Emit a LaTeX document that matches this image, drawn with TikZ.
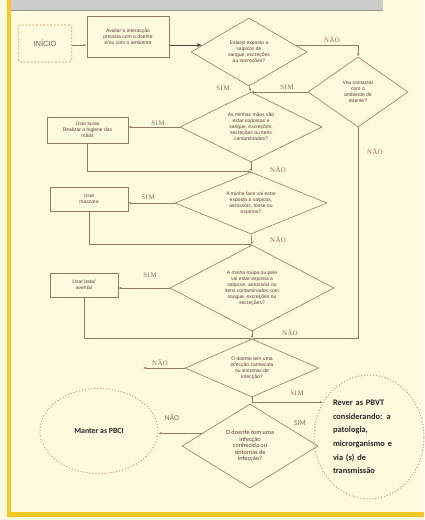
\documentclass[tikz,border=0pt]{standalone}
\usepackage{fontspec}
\setmainfont{Liberation Sans}
\newfontfamily\lblfont[LetterSpace=8]{Liberation Serif}
\newfontfamily\calfont{Carlito}
\definecolor{cream}{RGB}{255, 250, 222}
\definecolor{bordyellow}{RGB}{247, 200, 40}
\definecolor{headgray}{RGB}{204, 204, 202}
\definecolor{headedge}{RGB}{150, 150, 148}
\definecolor{linebrown}{RGB}{145, 122, 102}
\definecolor{txtbrown}{RGB}{85, 66, 52}
\definecolor{lblbrown}{RGB}{130, 108, 90}
\definecolor{dotred}{RGB}{205, 160, 140}
\definecolor{dashtan}{RGB}{218, 195, 155}
\usetikzlibrary{shapes.geometric, arrows.meta, calc}

\begin{document}
\begin{tikzpicture}[x=1pt, y=-1pt,
  flowline/.style={draw=linebrown, line width=0.7pt},
  arr/.style={flowline, -{Latex[length=3pt, width=2.4pt]}},
  decision/.style={diamond, aspect=2, draw=linebrown, line width=0.6pt, inner sep=0pt,
    align=center, font=\fontsize{5}{6}\selectfont, text=txtbrown},
  actionbox/.style={rectangle, draw=linebrown, line width=0.6pt, inner sep=1pt,
    align=center, font=\fontsize{5}{6}\selectfont, text=txtbrown},
  lbl/.style={font=\lblfont\fontsize{6.8}{7}\selectfont, text=lblbrown},
  callbl/.style={font=\calfont\fontsize{7.5}{8}\selectfont, text=lblbrown},
  outcome/.style={ellipse, draw=dotred, line width=1pt, dash pattern=on 1.2pt off 1.8pt,
    inner sep=0pt, font=\calfont\bfseries, text=black!85}]

  \useasboundingbox (0,0) rectangle (424,520);
  \fill[cream] (0,0) rectangle (424,520);

  % frame
  \fill[bordyellow] (7,0) rectangle (11,517);
  \fill[bordyellow] (7,512) rectangle (424,517);
  \fill[headgray] (11,0) rectangle (383,10);
  \draw[headedge, line width=0.8pt] (11,10.4) -- (383,10.4);

  % start
  \node[draw=dashtan, line width=1.3pt, dash pattern=on 2pt off 1.5pt, rounded corners=2pt,
    minimum width=53pt, minimum height=37pt, font=\fontsize{7.5}{8}\selectfont, text=lblbrown!90!black]
    (inicio) at (45,43.5) {INÍCIO};
  \node[actionbox, minimum width=82pt, minimum height=41pt] (avaliar) at (128,36.5)
    {Avaliar a interacção\\prevista com o doente\\e/ou com o ambiente};

  % decisions
  \node[decision, minimum width=116pt, minimum height=68pt] (d1) at (249,52)
    {Estarei exposto a\\salpicos de\\sangue, excreções\\ou secreções?};
  \node[decision, minimum width=100pt, minimum height=70pt] (d3) at (358,92)
    {Vou contactar\\com o\\ambiente do\\doente?};
  \node[decision, minimum width=142pt, minimum height=70pt] (d2) at (251,127)
    {As minhas mãos vão\\estar expostas a\\sangue, excreções,\\secreções ou itens\\contaminados?};
  \node[decision, minimum width=152pt, minimum height=62pt] (d4) at (251,203)
    {A minha face vai estar\\exposta a salpicos,\\aerossóis, tosse ou\\espirros?};
  \node[decision, minimum width=164pt, minimum height=86pt] (d5) at (252,288)
    {A minha roupa ou pele\\vai estar exposta a\\salpicos, aerossóis ou\\itens contaminados com\\sangue, excreções ou\\secreções?};
  \node[decision, minimum width=134pt, minimum height=58pt] (d6) at (252,368)
    {O doente tem uma\\infecção conhecida\\ou sintomas de\\infecção?};
  \node[decision, minimum width=136pt, minimum height=84pt, font=\calfont\fontsize{6.3}{6.6}\selectfont]
    (d7) at (250,446) {O doente tem uma\\infecção\\conhecida ou\\sintomas de\\infecção?};

  % actions
  \node[actionbox, minimum width=81pt, minimum height=26pt] (luvas) at (87.5,130)
    {Usar luvas\\Realizar a higiene das\\mãos};
  \node[actionbox, minimum width=78pt, minimum height=24pt] (mascara) at (89,199) {Usar\\máscara};
  \node[actionbox, minimum width=68pt, minimum height=24pt] (bata) at (84,285) {Usar bata/\\avental};

  % outcomes
  \node[outcome, minimum width=118pt, minimum height=85pt, font=\calfont\bfseries\fontsize{7.8}{8}\selectfont]
    (manter) at (99,431) {Manter as PBCI};
  \node[outcome, minimum width=110pt, minimum height=124pt, align=left, text width=72pt,
    font=\calfont\bfseries\fontsize{8.4}{13.6}\selectfont]
    (rever) at (369,437) {Rever as PBVT\\considerando: a\\patologia,\\microrganismo e\\via (s) de\\transmissão};

  % connectors
  \coordinate (e1) at ($(d1.west)!0.2!(d1.north)$);
  \coordinate (o1) at ($(d1.east)!0.2!(d1.north)$);
  \coordinate (e7) at ($(d7.west)!0.3!(d7.north)$);
  \coordinate (nao6) at (143,368);
  \draw[arr] (inicio.east |- e1) -- (avaliar.west |- e1);
  \draw[draw=txtbrown, line width=1pt, -{Latex[length=5pt, width=4pt]}] (avaliar.east |- e1) -- (e1);
  \draw[arr] (o1) -| (d3.north);
  \draw[arr] (d1.south) -- (d2.north);
  \draw[arr] (d3.west) -- (d3.west -| d2.north);
  \draw[arr] (d3.south) |- (d6.north);
  \draw[arr] (d2.west) -- (d2.west -| luvas.east);
  \draw[arr] (luvas.south) |- (d4.north);
  \draw[arr] (d2.south) -- (d4.north);
  \draw[arr] (d4.west) -- (d4.west -| mascara.east);
  \draw[arr] (mascara.south) |- (d5.north);
  \draw[arr] (d4.south) -- (d5.north);
  \draw[arr] (d5.west) -- (d5.west -| bata.east);
  \draw[arr] (bata.south) |- (d6.north);
  \draw[arr] (d5.south) -- (d6.north);
  \draw[arr] (d6.west) -- (nao6);
  \draw[arr] (d6.south) |- (rever.143);
  \draw[arr] (e7) -- (e7 -| manter.east);

  % labels
  \node[lbl] (l1) at (332,40) {NÃO};
  \node[lbl] (l2) at (223,88) {SIM};
  \node[lbl] (l3) at (287,87) {SIM};
  \node[lbl] (l4) at (375,152) {NÃO};
  \node[lbl] (l5) at (158,123) {SIM};
  \node[lbl] (l6) at (278,170) {NÃO};
  \node[lbl] (l7) at (148,197) {SIM};
  \node[lbl] (l8) at (278,240) {NÃO};
  \node[lbl] (l9) at (150,275) {SIM};
  \node[lbl] (l10) at (290,333) {NÃO};
  \node[lbl] (l11) at (160,363) {NÃO};
  \node[lbl] (l12) at (297,393) {SIM};
  \node[callbl] (l13) at (172,418) {NÃO};
  \node[callbl] (l14) at (300,423) {SIM};
\end{tikzpicture}
\end{document}
